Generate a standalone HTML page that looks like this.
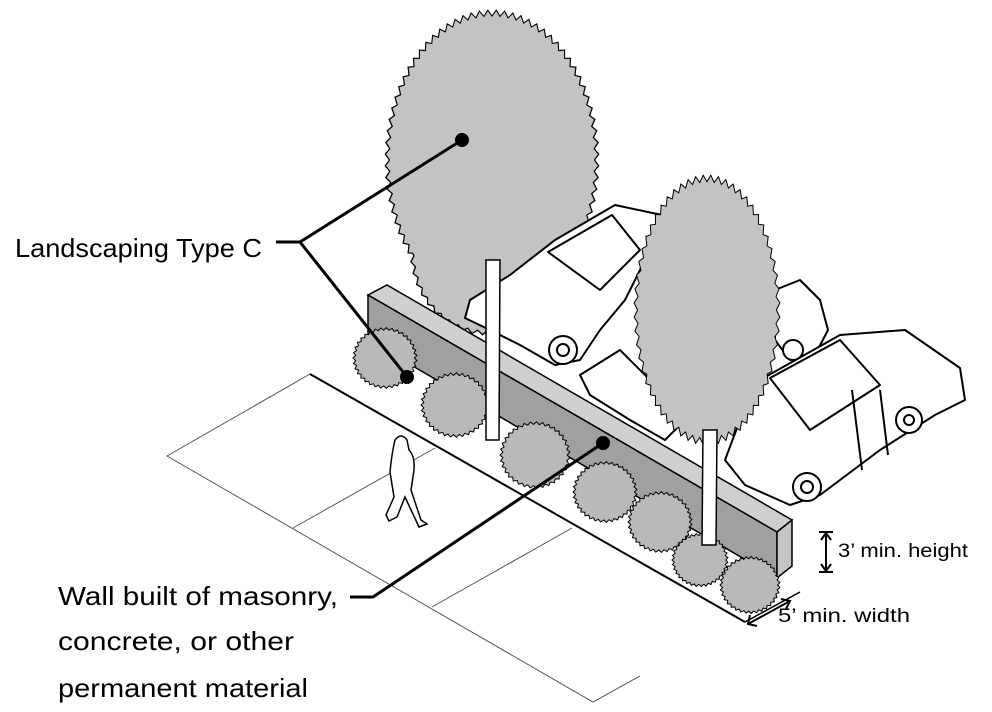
<!DOCTYPE html>
<html><head><meta charset="utf-8"><style>
html,body{margin:0;padding:0;background:#fff;}
svg{display:block}
text{font-family:"Liberation Sans",sans-serif;fill:#000}
</style></head><body>
<svg id="s" width="992" height="712" viewBox="0 0 992 712" xmlns="http://www.w3.org/2000/svg">
<g fill="none" stroke="#555" stroke-width="1">
<polyline points="310,374 167,456 593,702 640,676"/>
<line x1="293" y1="528" x2="435" y2="448"/>
<line x1="432" y1="607" x2="572" y2="528"/>
</g>
<line x1="310" y1="374" x2="745" y2="622" stroke="#000" stroke-width="2"/>
<line x1="745" y1="622" x2="800" y2="592" stroke="#000" stroke-width="1.5"/>
<g id="back"></g>
<g fill="#fff" stroke="#000" stroke-width="2" stroke-linejoin="round">
<path d="M775,290 L800,280 L820,300 L828,330 L815,355 L790,360 L775,340 Z"/>
<path d="M470,300 L510,275 L555,240 L615,205 L662,215 L650,250 L625,300 L600,330 L580,360 L555,365 L520,345 L490,330 L465,318 Z"/>
<path d="M548,252 L612,215 L640,250 L600,290 Z" fill="#fff"/>
<circle cx="563" cy="350" r="14"/><circle cx="563" cy="350" r="6"/>
<path d="M580,375 L620,350 L660,390 L680,425 L665,440 L630,420 L590,395 Z"/>
<path d="M760,380 L840,335 L905,330 L960,368 L965,400 L935,415 L880,450 L820,495 L790,505 L745,485 L725,460 L740,420 Z"/>
<path d="M770,378 L840,340 L880,385 L810,430 Z"/>
<line x1="852" y1="390" x2="862" y2="470"/><line x1="880" y1="390" x2="888" y2="455"/>
<circle cx="807" cy="487" r="14"/><circle cx="807" cy="487" r="6"/>
<circle cx="909" cy="420" r="13"/><circle cx="909" cy="420" r="5"/>
<circle cx="793" cy="350" r="10"/>
</g>
<g id="mid"></g>
<polygon points="368,295 387,285 792,520 777,532" fill="#cfcfcf" stroke="#000" stroke-width="1.5"/>
<polygon points="368,295 777,532 777,578 368,340" fill="#a0a0a0" stroke="#000" stroke-width="1.5"/>
<polygon points="777,532 792,520 792,566 777,578" fill="#c4c4c4" stroke="#000" stroke-width="1.5"/>
<g id="front"></g>
<g fill="#fff" stroke="#000" stroke-width="1.5">
<path d="M486,260 L500,260 L499,440 L486,440 Z"/>
<path d="M703,430 L717,430 L716,545 L702,545 Z"/>
</g>
<path d="M395,440 q6,-8 12,0 l2,10 q6,6 5,20 l-3,20 l10,30 l6,4 l-8,3 l-14,-30 l-8,20 l-8,4 l-3,-6 l8,-18 l-4,-25 q2,-20 5,-32 z" fill="#fff" stroke="#000" stroke-width="1.5"/>
<g stroke="#000" stroke-width="3" fill="none">
<polyline points="462,140 300,242 276,242"/>
<line x1="300" y1="242" x2="407" y2="377"/>
<polyline points="603,443 373,597 350,597"/>
</g>
<circle cx="462" cy="140" r="7"/><circle cx="407" cy="377" r="7"/><circle cx="603" cy="443" r="7"/>
<g stroke="#000" stroke-width="2" fill="none">
<line x1="826" y1="533" x2="826" y2="571"/>
<line x1="819" y1="532" x2="833" y2="532"/><line x1="819" y1="572" x2="833" y2="572"/>
<polyline points="821,540 826,533 831,540"/><polyline points="821,564 826,571 831,564"/>
<line x1="748" y1="624" x2="790" y2="601"/>
<polyline points="750,615 748,624 757,626"/><polyline points="781,599 790,601 786,609"/>
</g>
<text x="15" y="257" font-size="26" textLength="247" lengthAdjust="spacingAndGlyphs">Landscaping Type C</text>
<text x="58" y="605" font-size="26" textLength="280" lengthAdjust="spacingAndGlyphs">Wall built of masonry,</text>
<text x="58" y="650" font-size="26" textLength="236" lengthAdjust="spacingAndGlyphs">concrete, or other</text>
<text x="58" y="697" font-size="26" textLength="250" lengthAdjust="spacingAndGlyphs">permanent material</text>
<text x="838" y="557" font-size="19" textLength="130" lengthAdjust="spacingAndGlyphs">3’ min. height</text>
<text x="778" y="622" font-size="19" textLength="132" lengthAdjust="spacingAndGlyphs">5’ min. width</text>
</svg>
<script>
var NS="http://www.w3.org/2000/svg";
function jag(cx,cy,rx,ry,n,amp,fill,parent,sw){
 var d="";
 for(var i=0;i<n;i++){
  var a=i/n*Math.PI*2, r=(i%2?1:1-amp);
  var x=cx+Math.cos(a)*rx*r, y=cy+Math.sin(a)*ry*r;
  d+=(i?"L":"M")+x.toFixed(1)+","+y.toFixed(1);
 }
 var p=document.createElementNS(NS,"path");
 p.setAttribute("d",d+"Z");p.setAttribute("fill",fill);
 p.setAttribute("stroke",sw?"#000":"none");p.setAttribute("stroke-width","1");
 document.getElementById(parent).appendChild(p);
}
jag(492,160,107,150,160,0.04,"#000","back",true);
jag(485,250,75,85,90,0.05,"#000","back",true);
jag(492,160,106,149,160,0.04,"#c3c3c3","back",false);
jag(485,250,74,84,90,0.05,"#c3c3c3","back",false);
jag(707,310,73,135,120,0.05,"#c3c3c3","mid",true);
var sh=[[385,358,32],[455,405,34],[535,455,35],[605,492,32],[660,522,32],[700,560,28],[750,585,30]];
sh.forEach(function(s){jag(s[0],s[1],s[2],s[2]*0.95,70,0.08,"#b9b9b9","front",true);});
</script>
</body></html>
